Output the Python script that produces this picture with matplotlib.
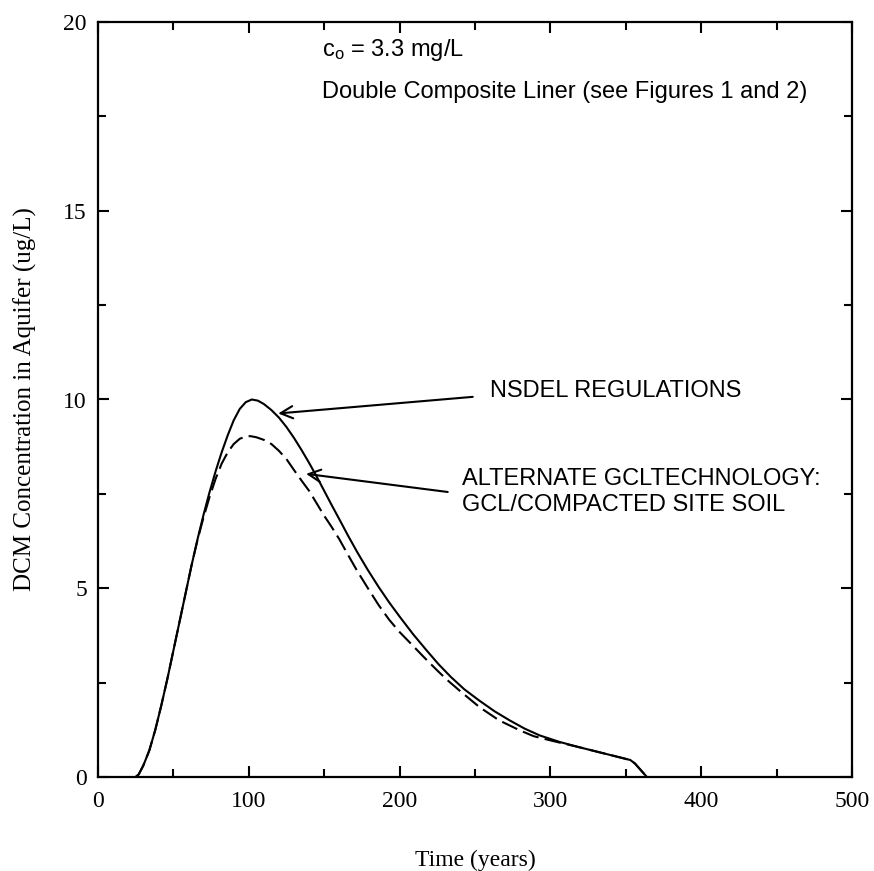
import matplotlib
matplotlib.use("Agg")
import matplotlib.pyplot as plt
from matplotlib.ticker import MultipleLocator

# --- data ---
t_nsdel = [25, 27, 30, 34, 38, 42, 46, 50, 54, 58, 62, 66, 70, 74, 78, 82, 86, 90, 94, 98,
           102, 106, 110, 115, 120, 125, 130, 135, 140, 145, 150, 155, 160, 166, 172, 179,
           186, 193, 200, 209, 218, 226, 234, 243, 253, 263, 273, 283, 293, 306, 318, 330,
           342, 353, 356, 360, 364]
c_nsdel = [0, 0.07, 0.3, 0.7, 1.25, 1.9, 2.6, 3.35, 4.1, 4.85, 5.6, 6.3, 6.95, 7.55, 8.1,
           8.6, 9.05, 9.45, 9.75, 9.93, 10.0, 9.97, 9.88, 9.72, 9.52, 9.27, 8.98, 8.66, 8.32,
           7.96, 7.58, 7.2, 6.83, 6.38, 5.95, 5.48, 5.04, 4.63, 4.25, 3.78, 3.35, 2.98, 2.65,
           2.32, 2.02, 1.74, 1.5, 1.28, 1.1, 0.93, 0.8, 0.68, 0.56, 0.45, 0.36, 0.18, 0]

t_gcl = [25, 27, 30, 34, 38, 42, 46, 50, 54, 58, 62, 66, 70, 74, 78, 82, 86, 90, 94, 98,
         101, 105, 110, 115, 120, 125, 130, 135, 140, 145, 150, 155, 160, 166, 172, 179,
         186, 193, 200, 209, 216, 224, 231, 240, 253, 266, 280, 289, 300, 318, 330, 342,
         353, 356, 360, 364]
c_gcl = [0, 0.07, 0.3, 0.7, 1.25, 1.9, 2.6, 3.35, 4.1, 4.85, 5.6, 6.28, 6.88, 7.42, 7.9,
         8.3, 8.6, 8.82, 8.96, 9.02, 9.03, 9.0, 8.93, 8.82, 8.64, 8.42, 8.13, 7.85, 7.58,
         7.25, 6.92, 6.62, 6.3, 5.87, 5.45, 5.0, 4.56, 4.17, 3.84, 3.47, 3.18, 2.86, 2.59,
         2.28, 1.85, 1.5, 1.23, 1.08, 0.97, 0.8, 0.68, 0.56, 0.45, 0.36, 0.18, 0]

x_ticks = [0, 100, 200, 300, 400, 500]
y_ticks = [0, 5, 10, 15, 20]

label_nsdel = "NSDEL REGULATIONS"
label_gcl = "ALTERNATE GCLTECHNOLOGY:\nGCL/COMPACTED SITE SOIL"
note_lines = [r"$\mathregular{c_o}$ = 3.3 mg/L", "Double Composite Liner (see Figures 1 and 2)"]

serif = "Liberation Serif"
sans = "Liberation Sans"

fig = plt.figure(figsize=(8.74, 8.71), dpi=100)
ax = fig.add_axes([98 / 874, 1 - 777 / 871, (852 - 98) / 874, (777 - 22) / 871])

ax.plot(t_nsdel, c_nsdel, color="black", lw=1.5, solid_capstyle="butt")
ax.plot(t_gcl, c_gcl, color="black", lw=1.5, dashes=(8, 3))

ax.set_xlim(0, 500)
ax.set_ylim(0, 20)
ax.set_xticks(x_ticks)
ax.set_yticks(y_ticks)
ax.xaxis.set_minor_locator(MultipleLocator(50))
ax.yaxis.set_minor_locator(MultipleLocator(2.5))
ax.tick_params(which="both", direction="in", top=True, right=True, width=1.5)
ax.tick_params(which="major", length=8)
ax.tick_params(which="minor", length=5.5)
ax.tick_params(axis="x", pad=10)
ax.tick_params(axis="y", pad=8)
for lbl in ax.get_xticklabels() + ax.get_yticklabels():
    lbl.set_fontfamily(serif)
    lbl.set_fontsize(17)
for s in ax.spines.values():
    s.set_linewidth(1.6)

ax.set_xlabel("Time (years)", fontfamily=serif, fontsize=17, labelpad=27)
ax.set_ylabel("DCM Concentration in Aquifer (ug/L)", fontfamily=serif, fontsize=18, labelpad=19)

ax.text(148.4, 19.26, note_lines[0], fontfamily=sans, fontsize=17, va="center", ha="left")
ax.text(148.4, 18.15, note_lines[1], fontfamily=sans, fontsize=17, va="center", ha="left")

arrow_kw = dict(arrowstyle="->", color="black", lw=1.5, shrinkA=0, shrinkB=0,
                mutation_scale=22)
ax.annotate("", xy=(119.5, 9.63), xytext=(248.5, 10.07), arrowprops=arrow_kw)
ax.text(259.8, 10.23, label_nsdel, fontfamily=sans, fontsize=17, va="center", ha="left")
ax.annotate("", xy=(138.0, 8.03), xytext=(231.9, 7.55), arrowprops=arrow_kw)
ax.text(241.2, 7.55, label_gcl, fontfamily=sans, fontsize=17, va="center", ha="left",
        linespacing=1.22)

fig.savefig("out.png", dpi=100)
